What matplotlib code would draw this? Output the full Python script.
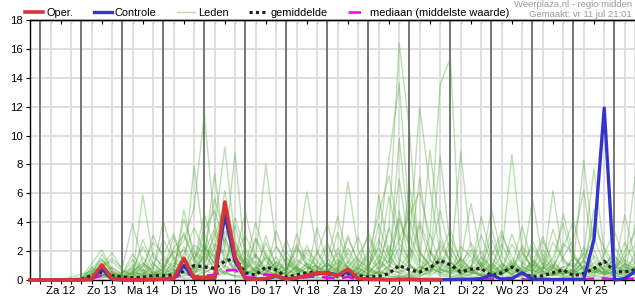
import matplotlib
matplotlib.use('Agg')
import matplotlib.pyplot as plt
import matplotlib.dates as mdates
from matplotlib.ticker import FuncFormatter, FixedLocator, NullFormatter, MultipleLocator
import numpy as np
import pandas as pd

plt.rcParams['font.family'] = ['Liberation Sans', 'DejaVu Sans']

# 6-hourly steps, Fri 11 jul 18:00 ... Sat 26 jul 12:00
times = pd.date_range('2025-07-11 18:00', periods=60, freq='6h')


def parse(s):
    return [float(v) for v in s.replace('|', ' ').split()]


# Oper. (runs to Mon 21 18:00)
oper = parse("0 | 0 0 0 0 | 0 .05 1.05 .1 | .02 0 .02 .05 | .05 .1 1.5 .15 | .2 .15 5.4 1.6 |"
             " .1 .05 .1 .3 | .05 .15 .3 .5 | .45 .3 .75 .1 | .05 .05 .02 .05 | .05 .02 .02 .02")

controle = parse("0 | 0 0 0 0 | 0 .03 .8 .05 | 0 0 0 .02 | .05 .1 1.0 .1 | .15 .1 4.5 1.3 |"
                 " .1 .05 .08 .25 | .05 .15 .3 .45 | .5 .35 .55 .1 | .05 .05 .02 .03 |"
                 " .05 .02 .02 .02 | .03 .05 .05 .1 | .35 .05 .1 .5 | .05 .05 .03 .05 |"
                 " .05 .05 2.8 11.9 | 0 .1 .6")

gemiddelde = parse("0 | 0 0 0 .02 | .05 .3 .55 .3 | .2 .15 .2 .3 | .3 .35 .6 1.0 | .9 .8 1.3 1.5 |"
                   " .5 .35 .9 .7 | .2 .35 .5 .55 | .4 .25 .45 .3 | .2 .25 .45 1.0 |"
                   " .7 .55 .85 1.35 | 1.05 .55 .75 .8 | .3 .5 .9 .45 | .2 .3 .5 .7 |"
                   " .3 .45 .8 1.3 | .6 .55 .7")

mediaan = parse("0 | 0 0 0 0 | 0 .1 .3 .1 | .05 0 .05 .05 | .05 .1 .5 .25 | .3 .35 .65 .7 |"
                " .2 .15 .4 .3 | .05 .1 .2 .25 | .15 .1 .2 .05 | .02 .02 .05 .05 |"
                " .05 .05 .05 .05 | .05 .05 .05 .05 | .05 .1 .1 .05 | .02 .05 .05 .05 |"
                " .05 .05 .1 .1 | .05 .05 .1")

leden_raw = [
    "0 | 0 0 0 0 | 0 .3 .6 .2 | 0 .5 1.2 .4 | .2 1.5 2.1 .8 | 1.2 2.5 1.8 .6 | .3 .8 1.5 .4 | .2 .6 1.1 .3 | .5 1.4 .9 .2 | 0 .8 3.5 16.4 | 10.4 1.0 .6 2.4 | 1.3 .5 .9 3.1 | 1.2 .4 .8 2.2 | .6 1.5 .9 .3 | .8 1.9 .7 .5 | .9 1.6 2.4",
    "0 | 0 0 0 .1 | .1 .8 1.5 .5 | .2 .4 .9 2.6 | 1.8 3.2 1.1 .7 | 2.2 1.6 3.4 2.0 | 1.1 .6 .4 1.3 | .7 2.1 1.5 .9 | .4 .3 1.2 3.0 | .9 2.4 8.4 13.6 | 4.2 1.8 1.1 .7 | .5 2.3 1.6 .9 | 2.8 1.2 .6 .4 | 1.1 .7 2.6 1.5 | .5 1.3 3.8 2.2 | 1.0 .6 1.2",
    "0 | 0 0 0 0 | 0 .4 1.1 .3 | .1 .9 .5 .2 | .6 2.2 3.1 1.4 | 3.5 4.8 2.6 1.1 | .8 2.9 1.7 .6 | .3 1.0 2.4 .8 | 1.5 .7 2.2 .9 | .4 1.7 1.2 2.8 | 4.5 6.1 3.0 13.5 | 15.4 1.2 2.1 .9 | 1.6 3.4 1.1 .5 | .3 1.2 .8 2.5 | 1.9 .7 .5 1.4 | .6 2.0 3.3",
    "0 | 0 0 0 0 | .1 .2 .5 .9 | .4 1.8 .7 .3 | 1.1 .6 4.2 2.0 | 1.4 3.0 5.1 2.3 | .9 1.8 .6 .4 | 1.6 .8 .5 2.0 | .7 3.3 1.2 .5 | .2 .6 1.9 4.3 | 2.5 12.0 6.4 1.8 | .9 .5 1.4 .7 | 3.6 1.1 .6 1.9 | .8 2.7 1.3 .6 | .4 1.5 2.9 1.1 | 1.7 .9 .6",
    "0 | 0 0 0 0 | 0 .6 1.4 .5 | .3 .2 1.0 .4 | .8 1.9 2.7 5.0 | 11.5 3.8 1.5 .9 | 2.2 1.1 .7 .3 | .5 1.4 .9 .6 | 2.4 1.0 .4 .8 | 1.8 4.6 7.2 3.1 | 1.1 .6 2.0 1.2 | .7 1.5 .8 .4 | 1.2 .6 2.5 1.0 | .5 .9 .4 1.6 | 2.8 6.2 1.4 .7 | .4 1.1 .8",
    "0 | 0 0 0 0 | 0 .1 .9 1.3 | .6 .4 2.8 1.1 | .5 1.2 .8 2.4 | 1.9 3.6 9.2 2.7 | 1.0 .5 1.6 .8 | .4 .9 2.1 1.3 | .6 .3 .9 1.7 | 3.0 1.2 5.8 2.5 | 1.4 4.1 2.0 .8 | 2.9 1.3 .7 4.4 | 1.5 .8 .5 1.1 | 2.3 1.0 .6 .9 | 1.2 8.3 2.1 .5 | 1.6 .8 1.5",
    "0 | 0 0 0 0 | 0 .2 .7 .4 | .2 1.1 .6 .3 | 1.7 .9 3.3 1.5 | 2.6 1.4 2.2 8.8 | 1.3 .7 2.6 1.0 | .8 2.3 .9 .4 | 1.1 .6 2.9 1.3 | .9 2.2 1.0 4.1 | 2.3 1.2 9.0 3.2 | 1.0 .6 .9 2.0 | .7 3.1 1.6 .5 | 1.4 .8 3.5 1.2 | .9 1.8 7.7 1.9 | .8 1.4 .9",
    "0 | 0 0 0 0 | .1 .5 .3 .2 | .1 .3 5.9 1.6 | 1.0 2.0 1.4 .8 | 1.5 7.4 2.0 1.1 | .6 1.7 .9 2.3 | 1.2 .5 .8 1.0 | .5 1.9 .8 .4 | .3 .9 3.6 1.4 | .9 .6 1.3 8.6 | 2.2 .9 .5 1.0 | .6 1.8 8.7 1.9 | .9 .5 1.1 .7 | .6 1.3 .8 .5 | 1.1 .6 .9",
    "0 | 0 0 0 0 | 0 .9 .4 .1 | .5 .8 .3 1.9 | .7 .4 1.8 3.6 | 2.0 1.2 4.4 1.7 | 3.1 1.5 8.0 2.4 | 1.1 .7 .5 1.8 | 3.9 1.4 .7 .5 | 1.0 2.8 1.3 .8 | 1.9 .7 .4 1.6 | .8 8.9 2.3 1.0 | .5 1.1 .7 2.4 | 1.3 .6 6.2 1.4 | .9 .5 1.2 .7 | 2.3 1.0 7.1",
    "0 | 0 0 0 0 | .2 1.1 2.1 .7 | .3 .2 .7 .5 | .4 .8 2.3 1.2 | 4.6 2.1 .9 3.8 | 1.2 .6 .9 .5 | .7 1.6 6.1 1.9 | .8 .5 1.3 .6 | .4 1.3 .7 9.8 | 3.1 1.4 .8 .6 | 1.2 .7 1.9 .9 | 4.9 1.7 .8 .4 | .9 2.1 1.0 .6 | .4 .9 .6 1.8 | 3.4 1.2 .7",
    "0 | 0 0 0 .2 | .4 .6 .9 1.5 | .8 3.9 1.2 .6 | .3 .5 1.1 .7 | 1.8 5.7 3.0 1.2 | .5 2.8 1.3 .6 | .4 .3 1.2 .7 | 1.1 .5 6.8 2.1 | .7 .4 .9 2.2 | 1.0 .5 1.7 4.8 | 1.8 .7 .4 1.2 | .8 .5 1.4 .6 | 2.7 1.1 .6 .4 | 1.6 .7 .5 1.0 | .6 4.5 1.5",
    "0 | 0 0 0 0 | 0 .3 1.8 .6 | .2 .5 .4 .9 | 2.8 1.4 .6 7.9 | 2.4 1.0 .6 1.5 | 4.7 1.6 .7 .4 | 1.3 .6 .4 .9 | .6 1.2 .5 .3 | .8 .5 .4 1.1 | 5.5 2.0 .9 .5 | .4 .8 2.6 1.1 | .6 .4 .9 .5 | .3 .7 1.5 3.9 | 1.2 .6 .4 .8 | .5 .3 .9",
    "0 | 0 0 0 0 | 0 .2 .4 .3 | .1 .6 .3 .2 | .9 .4 1.6 .8 | .6 2.2 5.3 1.9 | .8 .4 .7 1.6 | .5 3.2 1.1 .5 | .3 .8 .4 1.5 | .6 .4 1.0 .5 | 1.4 7.1 1.9 .8 | .5 1.1 .6 .3 | .4 .7 .4 .9 | 5.6 1.4 .6 .4 | .7 .4 .9 .5 | .4 .7 .5",
    "0 | 0 0 0 0 | 0 .1 .5 .2 | 0 .3 1.6 .4 | .2 .7 .5 1.9 | 1.1 .6 2.9 1.3 | .7 .3 .5 .9 | .4 .7 .3 1.2 | 2.6 .7 .3 .4 | .3 5.9 1.8 .7 | .4 .9 .5 2.7 | 1.3 .5 .3 .8 | .5 .3 1.1 .5 | .7 .4 .3 .6 | .5 2.3 .9 .4 | .3 .5 .8",
    "0 | 0 0 0 0 | 0 .4 .2 .1 | .1 .2 .4 .2 | .3 .5 .9 .4 | 1.7 .8 .5 1.1 | .4 .9 .4 .3 | .8 .4 .2 .5 | .3 .6 1.9 .7 | .4 .3 .7 .5 | .3 .6 1.4 .5 | .9 .4 .6 .3 | .3 1.0 .4 .7 | .4 .3 .8 .4 | .6 .4 .3 1.3 | .5 .3 .6",
    "0 | 0 0 0 0 | 0 .1 .3 .1 | 0 .1 .2 .1 | .2 .3 .2 .6 | .5 .9 .4 .3 | .2 .5 .3 .2 | .3 .2 .4 .2 | .1 .3 .2 .4 | .2 .6 .3 .2 | .4 .2 .7 .3 | .2 .4 .2 .3 | .2 .5 .3 .2 | .3 .2 .4 .3 | .2 .6 .3 .2 | .3 .2 .4",
    "0 | 0 0 0 0 | 0 .5 1.3 .8 | .4 1.4 .6 3.1 | 1.5 .7 .4 1.0 | 3.2 1.6 .8 4.3 | 2.0 .9 .5 1.2 | .6 2.5 1.0 .4 | 1.3 4.4 1.5 .7 | 2.1 .8 1.3 7.0 | 2.2 .9 .6 1.5 | .7 1.4 5.3 1.6 | .9 .5 1.2 .7 | 1.1 3.0 .9 .5 | 1.6 .7 4.9 1.3 | .8 2.6 1.1",
    "0 | 0 0 0 0 | .1 .7 .4 .2 | .2 .6 1.1 .7 | 4.1 1.6 .9 .5 | .8 3.4 1.3 2.6 | 1.0 4.0 1.7 .8 | 2.0 .8 .5 3.6 | 1.2 .6 .4 1.0 | 3.3 1.5 .7 .5 | .9 3.8 1.4 .7 | 2.4 .9 .5 .4 | 1.0 .6 3.2 1.2 | .7 .4 .9 2.2 | 4.1 1.3 .6 .4 | .9 .5 3.8",
    "0 | 0 0 0 0 | 0 .3 .9 1.9 | .7 .3 .5 .3 | .6 3.0 1.2 .6 | .9 1.3 6.2 2.1 | .8 1.3 .6 3.4 | 1.5 .7 1.9 .8 | .5 .9 3.1 1.1 | .6 3.9 1.6 .8 | 6.6 2.0 .9 .5 | .7 .4 1.0 .6 | 2.1 .8 .4 .9 | .6 1.8 .7 4.6 | 1.7 .8 .5 .9 | 1.4 .6 .4",
    "0 | 0 0 0 0 | 0 .2 .1 .4 | .3 .7 2.3 .8 | .4 .2 .6 .3 | .5 .9 1.5 .7 | .4 .2 3.1 .9 | .6 .4 .3 .6 | .4 2.2 .8 .5 | .3 .5 2.4 1.0 | .6 .3 .5 1.8 | 3.5 1.1 .5 .3 | .6 .4 .9 3.7 | 1.1 .5 .3 .7 | .4 1.0 .6 .3 | .7 .4 1.9",
    "0 | 0 0 0 0 | 0 .1 .6 .3 | .1 .2 .2 .6 | .3 1.0 .5 .3 | 2.0 .7 .4 .9 | .6 .3 1.9 .7 | 2.8 .9 .4 .3 | .6 .3 1.0 .4 | 1.7 .7 .3 4.8 | 1.1 .5 .3 .8 | .4 1.5 .7 .3 | .8 2.5 .9 .4 | .3 .6 .4 .9 | .6 .3 1.7 .6 | .4 .9 .5",
    "0 | 0 0 0 0 | 0 .4 .3 .6 | .3 .1 .3 1.2 | .5 .3 4.9 1.4 | .7 .4 1.0 .5 | 1.6 .6 .3 .5 | .4 .9 .5 .3 | .7 .4 .3 .8 | .5 1.2 .5 .3 | 1.0 .4 3.2 1.1 | .5 .3 .7 .4 | .3 .7 .4 .3 | 1.4 .6 .3 .5 | .3 .5 .8 .4 | .6 1.1 .5",
    "0 | 0 0 0 0 | 0 .2 1.0 .4 | .2 .4 .2 .1 | .1 .2 .3 .9 | 2.4 1.1 .5 .3 | .3 .7 .3 .2 | .2 .4 .9 .4 | .2 .5 .3 .2 | .9 .4 .2 .3 | .2 .4 .9 .4 | .3 .2 .4 1.6 | .6 .3 .2 .4 | .3 .9 .4 .2 | .4 .3 .2 .6 | .3 .2 .4",
    "0 | 0 0 0 0 | 0 .1 .2 .5 | .2 .1 .1 .3 | .1 .3 .1 .2 | .3 .1 .6 .2 | .1 .2 .1 .4 | .1 .2 .1 .1 | .2 .1 .5 .2 | .1 .2 .1 .2 | .3 .1 .2 .1 | .1 .2 .1 .1 | .2 .1 .3 .1 | .1 .2 .1 .1 | .1 .3 .1 .2 | .1 .1 .2",
]
leden = [parse(s) for s in leden_raw]

dagen = ['Ma', 'Di', 'Wo', 'Do', 'Vr', 'Za', 'Zo']
label_days = pd.date_range('2025-07-12 12:00', '2025-07-25 12:00', freq='D')
midnights = pd.date_range('2025-07-12', '2025-07-26', freq='D')


def day_label(x, pos):
    d = mdates.num2date(x)
    return f"{dagen[d.weekday()]} {d.day}"


fig = plt.figure(figsize=(6.35, 3.0), dpi=100)
ax = fig.add_axes([30 / 635, 20 / 300, 605 / 635, 260 / 300])

# grid
ax.set_axisbelow(True)
ax.grid(axis='y', color='#dcdcdc', lw=1.3)
ax.grid(axis='x', which='minor', color='#dcdcdc', lw=1.3)
for m in midnights:
    ax.axvline(m, color='#5a5a5a', lw=1.1, zorder=1)

# members
for k, vals in enumerate(leden):
    ax.plot(times[:len(vals)], vals, color='#4ca433', alpha=0.36, lw=1.0, zorder=2,
            label='Leden' if k == 0 else None)
ax.plot(times, mediaan, color='#ee00ee', lw=1.8, dashes=(5, 3), zorder=3,
        label='mediaan (middelste waarde)')
ax.plot(times, gemiddelde, color='#222222', lw=2.3, linestyle=(0, (1, 1)), zorder=4,
        label='gemiddelde')
ax.plot(times[:len(controle)], controle, color='#3434cc', lw=2.4, zorder=5,
        label='Controle', clip_on=False)
ax.plot(times[:len(oper)], oper, color='#d93535', lw=2.6, zorder=6,
        label='Oper.', clip_on=False)

ax.set_xlim(times[0], times[-1])
ax.set_ylim(0, 18)
ax.yaxis.set_major_locator(MultipleLocator(2))

ax.xaxis.set_major_locator(FixedLocator(mdates.date2num(label_days)))
ax.xaxis.set_major_formatter(FuncFormatter(day_label))
ax.xaxis.set_minor_locator(mdates.HourLocator(byhour=[0, 6, 12, 18]))
ax.tick_params(axis='x', which='both', direction='out', length=3, width=0.8,
               labelsize=8.2, pad=1.5, colors='black')
ax.tick_params(axis='y', direction='out', length=3, width=0.8, labelsize=8.2, pad=2)

top = ax.secondary_xaxis('top')
top.xaxis.set_major_locator(mdates.HourLocator(byhour=[0, 6, 12, 18]))
top.xaxis.set_major_formatter(NullFormatter())
top.tick_params(direction='in', length=3, width=0.8)

for side in ['left', 'bottom', 'top']:
    ax.spines[side].set_linewidth(1.0)
ax.spines['right'].set_visible(False)
top.spines['top'].set_linewidth(1.0)

handles, labels = ax.get_legend_handles_labels()
order = ['Oper.', 'Controle', 'Leden', 'gemiddelde', 'mediaan (middelste waarde)']
hmap = dict(zip(labels, handles))
leg = fig.legend([hmap[o] for o in order], order, loc='center left',
                 bbox_to_anchor=(25 / 635, 1 - 13 / 300), ncol=5, frameon=False,
                 fontsize=7.9, handlelength=1.65, handletextpad=0.3, columnspacing=1.85,
                 borderpad=0, borderaxespad=0)
for line in leg.get_lines():
    line.set_alpha(1)
    if line.get_label() == 'Leden' or line.get_color() == '#4ca433':
        line.set_color('#b8dcaa')

fig.text(632 / 635, 1 - 0 / 300, 'Weerplaza.nl - regio midden', ha='right', va='top',
         color='#9a9a9a', fontsize=6.8)
fig.text(632 / 635, 1 - 10 / 300, 'Gemaakt: vr 11 jul 21:01', ha='right', va='top',
         color='#9a9a9a', fontsize=6.8)

fig.savefig('out.png', dpi=100)
